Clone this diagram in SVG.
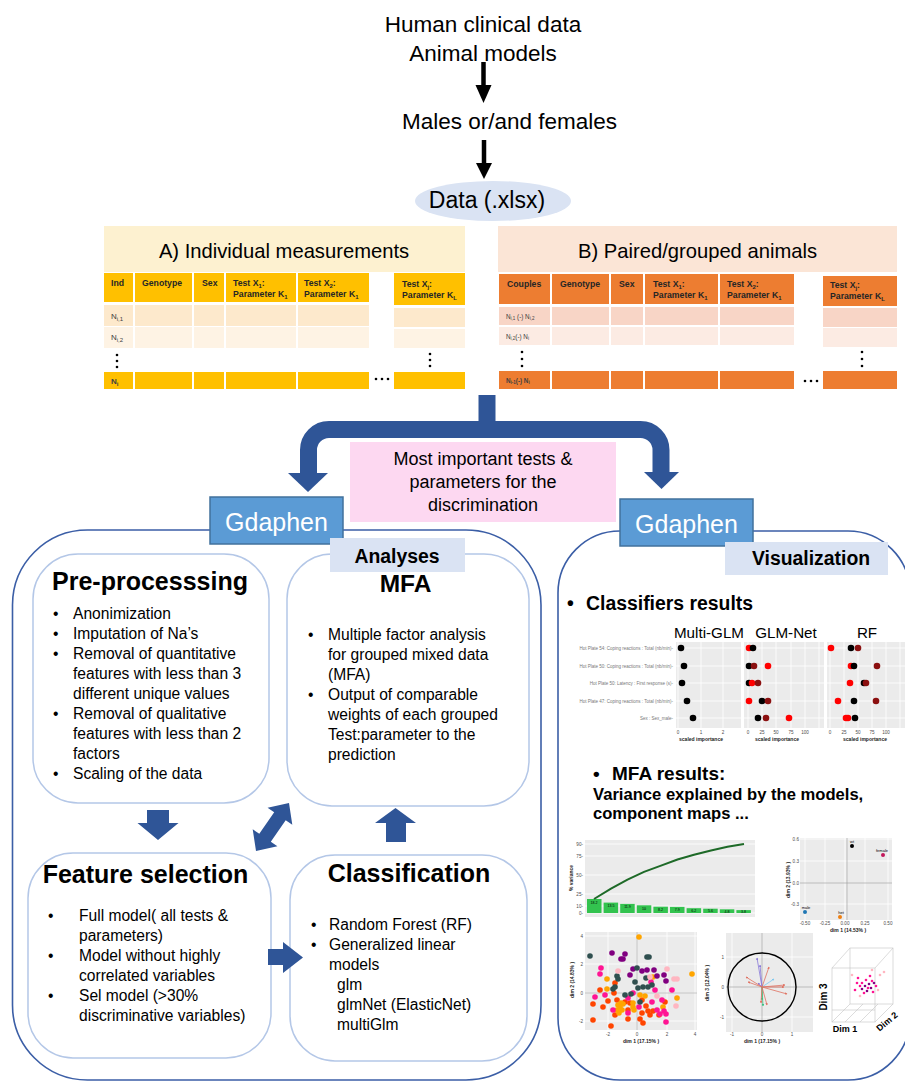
<svg xmlns="http://www.w3.org/2000/svg" width="905" height="1083" viewBox="0 0 905 1083">
<defs>
<style>
text{font-family:"Liberation Sans",Arial,sans-serif;fill:#000}
.big{font-size:22.5px}
.th{font-size:8.7px;font-weight:bold;fill:#262626}
.sub{font-size:6px}
.rl{font-size:8px;fill:#404040}
.rls{font-size:6.3px;fill:#404040}
.bul{font-size:15.6px}
.ttl{font-size:25px;font-weight:bold}
.gd{font-size:25px;fill:#fff}
.panel{fill:none;stroke:#3b5ea6;stroke-width:1.6}
.inner{fill:#fff;stroke:#b4c7e7;stroke-width:1.5}
.barrow{fill:#2f5597}
.gbox{fill:#5b9bd5;stroke:#41719c;stroke-width:1.5}
.lbl{fill:#dae3f3}
.pg{fill:#ebebeb}
.grid{stroke:#fff;stroke-width:0.8;fill:none}
.tk{font-size:4.6px;fill:#4d4d4d}
.ax{font-size:5px;font-weight:bold;fill:#222}
.yl{font-size:4.5px;fill:#777}
.o{fill:#ff4500}.y{fill:#ffa500}.p{fill:#ff1493}.v{fill:#800080}.d{fill:#2f4f4f}.l{fill:#ffb6c1}
.ya{fill:#ffc000}.yr1{fill:#fde9cc}.yr2{fill:#fef3e4}
.oa{fill:#ed7d31}.or1{fill:#f8d5c6}.or2{fill:#fcebe3}
.dt{fill:#000}
</style>
<marker id="mp" viewBox="0 0 6 6" refX="5" refY="3" markerWidth="3" markerHeight="3" orient="auto"><path d="M0,0 L6,3 L0,6 z" fill="#8878d8"/></marker>
<marker id="ms" viewBox="0 0 6 6" refX="5" refY="3" markerWidth="3" markerHeight="3" orient="auto"><path d="M0,0 L6,3 L0,6 z" fill="#e07060"/></marker>
<marker id="mb" viewBox="0 0 6 6" refX="5" refY="3" markerWidth="3" markerHeight="3" orient="auto"><path d="M0,0 L6,3 L0,6 z" fill="#7cc8f0"/></marker>
<marker id="mg" viewBox="0 0 6 6" refX="5" refY="3" markerWidth="3" markerHeight="3" orient="auto"><path d="M0,0 L6,3 L0,6 z" fill="#3cc383"/></marker>
</defs>
<rect width="905" height="1083" fill="#fff"/>

<g id="source">
<text class="big" x="483" y="32" text-anchor="middle">Human clinical data</text>
<text class="big" x="483" y="61" text-anchor="middle">Animal models</text>
</g>
<g id="sex">
<text class="big" x="402" y="129">Males or/and females</text>
</g>
<g id="data">
<ellipse cx="493" cy="201" rx="78" ry="20" fill="#dae3f3"/>
<text x="487" y="208" font-size="23" text-anchor="middle">Data (.xlsx)</text>
</g>

<g id="table-a">
<rect x="104" y="226" width="361" height="46" fill="#fdf1d0"/>
<text x="284" y="258" font-size="20.2" text-anchor="middle">A) Individual measurements</text>
<rect class="ya" x="104" y="273" width="29" height="29"/>
<rect class="ya" x="135" y="273" width="57" height="29"/>
<rect class="ya" x="194" y="273" width="30" height="29"/>
<rect class="ya" x="226" y="273" width="70" height="29"/>
<rect class="ya" x="298" y="273" width="71" height="29"/>
<rect class="ya" x="394" y="273" width="71" height="32"/>
<rect class="yr1" x="104" y="305" width="29" height="21"/>
<rect class="yr1" x="135" y="305" width="57" height="21"/>
<rect class="yr1" x="194" y="305" width="30" height="21"/>
<rect class="yr1" x="226" y="305" width="70" height="21"/>
<rect class="yr1" x="298" y="305" width="71" height="21"/>
<rect class="yr1" x="394" y="308" width="71" height="19"/>
<rect class="yr2" x="104" y="327" width="29" height="21"/>
<rect class="yr2" x="135" y="327" width="57" height="21"/>
<rect class="yr2" x="194" y="327" width="30" height="21"/>
<rect class="yr2" x="226" y="327" width="70" height="21"/>
<rect class="yr2" x="298" y="327" width="71" height="21"/>
<rect class="yr2" x="394" y="329" width="71" height="19"/>
<rect class="ya" x="104" y="372" width="29" height="17"/>
<rect class="ya" x="135" y="372" width="57" height="17"/>
<rect class="ya" x="194" y="372" width="30" height="17"/>
<rect class="ya" x="226" y="372" width="70" height="17"/>
<rect class="ya" x="298" y="372" width="71" height="17"/>
<rect class="ya" x="394" y="372" width="71" height="17"/>
<text class="th" x="111" y="286">Ind</text>
<text class="th" x="142" y="286">Genotype</text>
<text class="th" x="202" y="286">Sex</text>
<text class="th" x="233" y="286">Test X<tspan class="sub" dy="1.5">1</tspan><tspan dy="-1.5">:</tspan></text>
<text class="th" x="233" y="297">Parameter K<tspan class="sub" dy="1.5">1</tspan></text>
<text class="th" x="304" y="286">Test X<tspan class="sub" dy="1.5">2</tspan><tspan dy="-1.5">:</tspan></text>
<text class="th" x="304" y="297">Parameter  K<tspan class="sub" dy="1.5">1</tspan></text>
<text class="th" x="402" y="287">Test X<tspan class="sub" dy="1.5">j</tspan><tspan dy="-1.5">:</tspan></text>
<text class="th" x="402" y="298">Parameter  K<tspan class="sub" dy="1.5">L</tspan></text>
<text class="rl" x="111" y="319">N<tspan class="sub" dy="1.5">i,1</tspan></text>
<text class="rl" x="111" y="340">N<tspan class="sub" dy="1.5">i,2</tspan></text>
<text class="rl" x="111" y="384" font-weight="bold" fill="#262626">N<tspan class="sub" dy="1.5">i</tspan></text>
<circle class="dt" cx="117" cy="355" r="1.3"/><circle class="dt" cx="117" cy="361" r="1.3"/><circle class="dt" cx="117" cy="367" r="1.3"/>
<circle class="dt" cx="430" cy="354" r="1.3"/><circle class="dt" cx="430" cy="360" r="1.3"/><circle class="dt" cx="430" cy="366" r="1.3"/>
<circle class="dt" cx="376" cy="379" r="1.3"/><circle class="dt" cx="382" cy="379" r="1.3"/><circle class="dt" cx="388" cy="379" r="1.3"/>
</g>

<g id="table-b">
<rect x="498" y="226" width="399" height="46" fill="#fbe5d6"/>
<text x="697.5" y="258" font-size="20.2" text-anchor="middle">B) Paired/grouped animals</text>
<rect class="oa" x="499" y="274" width="51" height="30"/>
<rect class="oa" x="552" y="274" width="57" height="30"/>
<rect class="oa" x="611" y="274" width="32" height="30"/>
<rect class="oa" x="645" y="274" width="73" height="30"/>
<rect class="oa" x="720" y="274" width="74" height="30"/>
<rect class="oa" x="823" y="276" width="74" height="30"/>
<rect class="or1" x="499" y="307" width="51" height="18"/>
<rect class="or1" x="552" y="307" width="57" height="18"/>
<rect class="or1" x="611" y="307" width="32" height="18"/>
<rect class="or1" x="645" y="307" width="73" height="18"/>
<rect class="or1" x="720" y="307" width="74" height="18"/>
<rect class="or1" x="823" y="308" width="74" height="19"/>
<rect class="or2" x="499" y="327" width="51" height="18"/>
<rect class="or2" x="552" y="327" width="57" height="18"/>
<rect class="or2" x="611" y="327" width="32" height="18"/>
<rect class="or2" x="645" y="327" width="73" height="18"/>
<rect class="or2" x="720" y="327" width="74" height="18"/>
<rect class="or2" x="823" y="328" width="74" height="19"/>
<rect class="oa" x="499" y="371" width="51" height="18"/>
<rect class="oa" x="552" y="371" width="57" height="18"/>
<rect class="oa" x="611" y="371" width="32" height="18"/>
<rect class="oa" x="645" y="371" width="73" height="18"/>
<rect class="oa" x="720" y="371" width="74" height="18"/>
<rect class="oa" x="823" y="371" width="74" height="18"/>
<text class="th" x="507" y="287">Couples</text>
<text class="th" x="560" y="287">Genotype</text>
<text class="th" x="619" y="287">Sex</text>
<text class="th" x="653" y="287">Test X<tspan class="sub" dy="1.5">1</tspan><tspan dy="-1.5">:</tspan></text>
<text class="th" x="653" y="298">Parameter K<tspan class="sub" dy="1.5">1</tspan></text>
<text class="th" x="727" y="287">Test X<tspan class="sub" dy="1.5">2</tspan><tspan dy="-1.5">:</tspan></text>
<text class="th" x="727" y="298">Parameter  K<tspan class="sub" dy="1.5">1</tspan></text>
<text class="th" x="830" y="288">Test X<tspan class="sub" dy="1.5">j</tspan><tspan dy="-1.5">:</tspan></text>
<text class="th" x="830" y="299">Parameter  K<tspan class="sub" dy="1.5">L</tspan></text>
<text class="rls" x="506" y="319">N<tspan font-size="4.5" dy="1.2">i,1</tspan><tspan dy="-1.2"> (-) N</tspan><tspan font-size="4.5" dy="1.2">i,2</tspan></text>
<text class="rls" x="506" y="339">N<tspan font-size="4.5" dy="1.2">i,2</tspan><tspan dy="-1.2">(-) N</tspan><tspan font-size="4.5" dy="1.2">i</tspan></text>
<text class="rls" x="506" y="383" font-weight="bold" fill="#262626">N<tspan font-size="4.5" dy="1.2">i-1</tspan><tspan dy="-1.2">(-) N</tspan><tspan font-size="4.5" dy="1.2">i</tspan></text>
<circle class="dt" cx="522" cy="352" r="1.3"/><circle class="dt" cx="522" cy="359" r="1.3"/><circle class="dt" cx="522" cy="366" r="1.3"/>
<circle class="dt" cx="862" cy="352" r="1.3"/><circle class="dt" cx="862" cy="359" r="1.3"/><circle class="dt" cx="862" cy="366" r="1.3"/>
<circle class="dt" cx="805" cy="381" r="1.3"/><circle class="dt" cx="811" cy="381" r="1.3"/><circle class="dt" cx="817" cy="381" r="1.3"/>
</g>

<g id="important">
<rect x="350" y="442" width="266" height="80" fill="#fdd8f1"/>
<text x="483" y="465" font-size="18" text-anchor="middle">Most important tests &amp;</text>
<text x="483" y="488" font-size="18" text-anchor="middle">parameters for the</text>
<text x="483" y="511" font-size="18" text-anchor="middle">discrimination</text>
</g>

<g id="left-panel">
<rect class="panel" x="12.5" y="530" width="528.5" height="550" rx="75"/>
</g>
<g id="gdaphen-left">
<rect class="gbox" x="210" y="497" width="133" height="47"/>
<text class="gd" x="276.5" y="531" text-anchor="middle">Gdaphen</text>
</g>

<g id="preprocessing">
<rect class="inner" x="33" y="554" width="236" height="249" rx="45"/>
<text class="ttl" x="150" y="590" text-anchor="middle">Pre-processsing</text>
<text class="bul" x="53" y="619">•</text><text class="bul" x="73" y="619">Anonimization</text>
<text class="bul" x="53" y="639">•</text><text class="bul" x="73" y="639">Imputation of Na’s</text>
<text class="bul" x="53" y="659">•</text><text class="bul" x="73" y="659">Removal of quantitative</text>
<text class="bul" x="73" y="679">features with less than 3</text>
<text class="bul" x="73" y="699">different unique values</text>
<text class="bul" x="53" y="719">•</text><text class="bul" x="73" y="719">Removal of qualitative</text>
<text class="bul" x="73" y="739">features with less than 2</text>
<text class="bul" x="73" y="759">factors</text>
<text class="bul" x="53" y="779">•</text><text class="bul" x="73" y="779">Scaling of the data</text>
</g>

<g id="mfa">
<rect class="inner" x="287" y="554" width="242" height="252" rx="45"/>
<rect class="lbl" x="330" y="538" width="135" height="34"/>
<text x="397" y="563" font-size="19.4" font-weight="bold" text-anchor="middle">Analyses</text>
<text x="405.5" y="592" font-size="24.5" font-weight="bold" text-anchor="middle">MFA</text>
<text class="bul" x="308" y="640">•</text><text class="bul" x="328" y="640">Multiple factor analysis</text>
<text class="bul" x="328" y="660">for grouped mixed data</text>
<text class="bul" x="328" y="680">(MFA)</text>
<text class="bul" x="308" y="700">•</text><text class="bul" x="328" y="700">Output of comparable</text>
<text class="bul" x="328" y="720">weights of each grouped</text>
<text class="bul" x="328" y="740">Test:parameter to the</text>
<text class="bul" x="328" y="760">prediction</text>
</g>

<g id="feature-selection">
<rect class="inner" x="28" y="853" width="243" height="205" rx="45"/>
<text class="ttl" x="145.5" y="883" text-anchor="middle">Feature selection</text>
<text class="bul" x="48" y="921">•</text><text class="bul" x="79" y="921">Full model( all tests &amp;</text>
<text class="bul" x="79" y="941">parameters)</text>
<text class="bul" x="48" y="961">•</text><text class="bul" x="79" y="961">Model  without highly</text>
<text class="bul" x="79" y="981">correlated variables</text>
<text class="bul" x="48" y="1001">•</text><text class="bul" x="79" y="1001">Sel model (&gt;30%</text>
<text class="bul" x="79" y="1021">discriminative variables)</text>
</g>

<g id="classification">
<rect class="inner" x="290" y="855" width="237" height="206" rx="45"/>
<text class="ttl" x="409" y="882" text-anchor="middle">Classification</text>
<text class="bul" x="311" y="930">•</text><text class="bul" x="329" y="930">Random Forest (RF)</text>
<text class="bul" x="311" y="950">•</text><text class="bul" x="329" y="950">Generalized linear</text>
<text class="bul" x="329" y="970">models</text>
<text class="bul" x="337" y="990">glm</text>
<text class="bul" x="337" y="1010">glmNet (ElasticNet)</text>
<text class="bul" x="337" y="1030">multiGlm</text>
</g>

<g id="right-panel">
<rect class="panel" x="558" y="531" width="352" height="549" rx="62"/>
</g>
<g id="gdaphen-right">
<rect class="gbox" x="620" y="499" width="133" height="47"/>
<text class="gd" x="686.5" y="533" text-anchor="middle">Gdaphen</text>
</g>
<g id="visualization">
<rect class="lbl" x="725" y="542" width="163" height="33"/>
<text x="811" y="565" font-size="19.4" font-weight="bold" text-anchor="middle">Visualization</text>
<text x="567" y="610" font-size="19.4" font-weight="bold">•</text>
<text x="586" y="610" font-size="19.4" font-weight="bold">Classifiers results</text>
</g>

<g id="classifier-plots">
<text x="709" y="638" font-size="15.2" text-anchor="middle">Multi-GLM</text>
<text x="786" y="638" font-size="15.2" text-anchor="middle">GLM-Net</text>
<text x="867" y="638" font-size="15.2" text-anchor="middle">RF</text>
<rect class="pg" x="676" y="642" width="65" height="86"/>
<rect class="pg" x="744" y="642" width="80" height="86"/>
<rect class="pg" x="827" y="642" width="78" height="86"/>
<path class="grid" d="M676 648H741M676 666H741M676 683H741M676 701H741M676 718H741M678 642V728M701 642V728M723 642V728M744 648H824M744 666H824M744 683H824M744 701H824M744 718H824M748 642V728M762 642V728M776 642V728M791 642V728M805 642V728M819 642V728M827 648H905M827 666H905M827 683H905M827 701H905M827 718H905M830 642V728M844 642V728M858 642V728M872 642V728M886 642V728M900 642V728"/>
<text class="yl" x="673" y="649.5" text-anchor="end">Hot Plate 54: Coping reactions : Total (nb/min)-</text>
<text class="yl" x="673" y="667.5" text-anchor="end">Hot Plate 50: Coping reactions : Total (nb/min)-</text>
<text class="yl" x="673" y="684.5" text-anchor="end">Hot Plate 50: Latency : First response (s)-</text>
<text class="yl" x="673" y="702.5" text-anchor="end">Hot Plate 47: Coping reactions : Total (nb/min)-</text>
<text class="yl" x="673" y="719.5" text-anchor="end">Sex : Sex_male-</text>
<g fill="#000">
<circle cx="681" cy="648" r="3.3"/><circle cx="684" cy="666" r="3.3"/><circle cx="682" cy="683" r="3.3"/><circle cx="687" cy="701" r="3.3"/><circle cx="693" cy="718" r="3.3"/>
</g>
<g>
<circle cx="749" cy="648" r="3.3" fill="#ff0000"/><circle cx="753" cy="648" r="3.3" fill="#000"/>
<circle cx="749" cy="666" r="3.3" fill="#000"/><circle cx="754" cy="666" r="3.3" fill="#8b1010"/><circle cx="768" cy="666" r="3.3" fill="#ff0000"/>
<circle cx="749" cy="683" r="3.3" fill="#000"/><circle cx="752" cy="683" r="3.3" fill="#ff0000"/><circle cx="758" cy="683" r="3.3" fill="#8b1010"/>
<circle cx="749" cy="701" r="3.3" fill="#ff0000"/><circle cx="762" cy="701" r="3.3" fill="#000"/><circle cx="768" cy="701" r="3.3" fill="#8b1010"/>
<circle cx="758" cy="718" r="3.3" fill="#000"/><circle cx="766" cy="718" r="3.3" fill="#8b1010"/><circle cx="789" cy="718" r="3.3" fill="#ff0000"/>
<circle cx="831" cy="648" r="3.3" fill="#ff0000"/><circle cx="851" cy="648" r="3.3" fill="#000"/><circle cx="858" cy="648" r="3.3" fill="#8b1010"/>
<circle cx="851" cy="666" r="3.3" fill="#ff0000"/><circle cx="854" cy="666" r="3.3" fill="#000"/><circle cx="877" cy="666" r="3.3" fill="#8b1010"/>
<circle cx="850" cy="683" r="3.3" fill="#ff0000"/><circle cx="864" cy="683" r="3.3" fill="#000"/><circle cx="866" cy="683" r="3.3" fill="#8b1010"/>
<circle cx="838" cy="701" r="3.3" fill="#ff0000"/><circle cx="854" cy="701" r="3.3" fill="#000"/><circle cx="876" cy="701" r="3.3" fill="#8b1010"/>
<circle cx="846" cy="718" r="3.3" fill="#ff0000"/><circle cx="848" cy="718" r="3.3" fill="#ff0000"/><circle cx="855" cy="718" r="3.3" fill="#000"/>
</g>
<text class="tk" x="678" y="734" text-anchor="middle">0</text><text class="tk" x="701" y="734" text-anchor="middle">1</text><text class="tk" x="723" y="734" text-anchor="middle">2</text>
<text class="tk" x="748" y="734" text-anchor="middle">0</text><text class="tk" x="762" y="734" text-anchor="middle">25</text><text class="tk" x="776" y="734" text-anchor="middle">50</text><text class="tk" x="791" y="734" text-anchor="middle">75</text><text class="tk" x="805" y="734" text-anchor="middle">100</text>
<text class="tk" x="830" y="734" text-anchor="middle">0</text><text class="tk" x="844" y="734" text-anchor="middle">25</text><text class="tk" x="858" y="734" text-anchor="middle">50</text><text class="tk" x="872" y="734" text-anchor="middle">75</text><text class="tk" x="886" y="734" text-anchor="middle">100</text>
<text class="ax" x="701" y="741" text-anchor="middle">scaled importance</text>
<text class="ax" x="777" y="741" text-anchor="middle">scaled importance</text>
<text class="ax" x="865" y="741" text-anchor="middle">scaled importance</text>
</g>

<g id="mfa-results">
<text x="593" y="780" font-size="19" font-weight="bold">•</text>
<text x="612" y="780" font-size="19" font-weight="bold">MFA results:</text>
<text x="593" y="800" font-size="16.6" font-weight="bold">Variance explained by the models,</text>
<text x="593" y="819" font-size="16.6" font-weight="bold">component maps ...</text>
</g>

<g id="scree-plot">
<rect class="pg" x="585" y="840" width="170" height="77"/>
<path class="grid" d="M585 844H755M585 856H755M585 875H755M585 894H755M585 906H755M585 913H755"/>
<g fill="#33c34f">
<rect x="587" y="899" width="14.5" height="14"/>
<rect x="603.6" y="902.6" width="14.5" height="10.4"/>
<rect x="620.2" y="903.9" width="14.5" height="9.1"/>
<rect x="636.8" y="905.3" width="14.5" height="7.7"/>
<rect x="653.4" y="906.7" width="14.5" height="6.3"/>
<rect x="670" y="906.9" width="14.5" height="6.1"/>
<rect x="686.6" y="908.2" width="14.5" height="4.8"/>
<rect x="703.2" y="908.7" width="14.5" height="4.3"/>
<rect x="719.8" y="909.3" width="14.5" height="3.7"/>
<rect x="736.4" y="910.1" width="14.5" height="2.9"/>
</g>
<polyline points="594,899 611,888.7 627.5,879.6 644,871.9 661,865.6 677.5,859.5 694,854.8 711,850.5 727.5,846.8 744,843.9" fill="none" stroke="#1e6a28" stroke-width="2"/>
<text x="594" y="904" font-size="3.6" text-anchor="middle">18.2</text><text x="611" y="907" font-size="3.6" text-anchor="middle">13.5</text><text x="627.5" y="908" font-size="3.6" text-anchor="middle">11.9</text><text x="644" y="909.5" font-size="3.6" text-anchor="middle">10</text><text x="660.6" y="910.5" font-size="3.6" text-anchor="middle">8.2</text><text x="677.2" y="910.5" font-size="3.6" text-anchor="middle">7.9</text><text x="693.8" y="911.5" font-size="3.6" text-anchor="middle">6.2</text><text x="710.4" y="912" font-size="3.6" text-anchor="middle">5.6</text><text x="727" y="912.5" font-size="3.6" text-anchor="middle">4.8</text><text x="743.6" y="913" font-size="3.6" text-anchor="middle">3.8</text>
<text class="tk" x="583" y="845.5" text-anchor="end">90-</text><text class="tk" x="583" y="857.5" text-anchor="end">75-</text><text class="tk" x="583" y="876.5" text-anchor="end">50-</text><text class="tk" x="583" y="895.5" text-anchor="end">25-</text><text class="tk" x="583" y="907.5" text-anchor="end">10-</text><text class="tk" x="583" y="914.5" text-anchor="end">0-</text>
<text class="ax" x="0" y="0" transform="translate(573 878) rotate(-90)" text-anchor="middle">% variance</text>
</g>

<g id="group-map">
<rect class="pg" x="800" y="838" width="92" height="82"/>
<path class="grid" d="M805 838V920M825 838V920M845 838V920M865 838V920M888 838V920M800 839H892M800 861H892M800 904H892"/>
<path d="M847 838V920M800 883H892" stroke="#9a9a9a" stroke-width="0.6"/>
<circle cx="852" cy="846" r="2" fill="#000"/><text x="852" y="842.5" font-size="4" text-anchor="middle" fill="#000">wt</text>
<circle cx="883" cy="855" r="2" fill="#c2185b"/><text x="882" y="851.5" font-size="4" text-anchor="middle" fill="#c2185b">female</text>
<circle cx="805" cy="912" r="2" fill="#1f77b4"/><text x="806" y="908.5" font-size="4" text-anchor="middle" fill="#1f77b4">male</text>
<circle cx="840" cy="917" r="2" fill="#f07f10"/><text x="841" y="913.5" font-size="4" text-anchor="middle" fill="#f07f10">het</text>
<text class="tk" x="799" y="841" text-anchor="end">0.6</text><text class="tk" x="799" y="863" text-anchor="end">0.3</text><text class="tk" x="799" y="885" text-anchor="end">0.0</text><text class="tk" x="799" y="906" text-anchor="end">-0.3</text>
<text class="tk" x="805" y="925" text-anchor="middle">-0.50</text><text class="tk" x="825" y="925" text-anchor="middle">-0.25</text><text class="tk" x="845" y="925" text-anchor="middle">0.00</text><text class="tk" x="865" y="925" text-anchor="middle">0.25</text><text class="tk" x="888" y="925" text-anchor="middle">0.50</text>
<text class="ax" x="848" y="932" text-anchor="middle">dim 1 (14.53% )</text>
<text class="ax" x="0" y="0" transform="translate(790 880) rotate(-90)" text-anchor="middle">dim 2 (13.93% )</text>
</g>

<g id="individual-map">
<rect class="pg" x="585" y="932" width="112" height="98"/>
<path class="grid" d="M608 932V1030M667 932V1030M695 932V1030M585 936H697M585 964H697M585 1021H697"/>
<path d="M637 932V1030M585 993H697" stroke="#bdbdbd" stroke-width="0.8"/>
<g>
<circle class="o" cx="615" cy="983" r="2.8"/><circle class="o" cx="614" cy="993" r="2.8"/><circle class="o" cx="608" cy="1001" r="2.8"/><circle class="o" cx="617" cy="1000" r="2.8"/><circle class="o" cx="642" cy="1000" r="2.8"/><circle class="o" cx="665" cy="1002" r="2.8"/><circle class="o" cx="625" cy="1002" r="2.8"/><circle class="o" cx="630" cy="1003" r="2.8"/><circle class="o" cx="593" cy="1004" r="2.8"/><circle class="o" cx="603" cy="1007" r="2.8"/><circle class="o" cx="628" cy="1010" r="2.8"/><circle class="o" cx="648" cy="1011" r="2.8"/><circle class="o" cx="653" cy="1011" r="2.8"/><circle class="o" cx="615" cy="1015" r="2.8"/><circle class="o" cx="642" cy="1013" r="2.8"/><circle class="o" cx="650" cy="1015" r="2.8"/><circle class="o" cx="659" cy="1015" r="2.8"/><circle class="o" cx="593" cy="1020" r="2.8"/><circle class="o" cx="628" cy="1019" r="2.8"/><circle class="o" cx="640" cy="1019" r="2.8"/><circle class="o" cx="643" cy="1023" r="2.8"/><circle class="o" cx="611" cy="1026" r="2.8"/><circle class="o" cx="600" cy="990" r="2.8"/><circle class="o" cx="646" cy="1006" r="2.8"/>
<circle class="y" cx="639" cy="937" r="2.8"/><circle class="y" cx="692" cy="974" r="2.8"/><circle class="y" cx="653" cy="977" r="2.8"/><circle class="y" cx="607" cy="989" r="2.8"/><circle class="y" cx="640" cy="995" r="2.8"/><circle class="y" cx="677" cy="998" r="2.8"/><circle class="y" cx="621" cy="1003" r="2.8"/><circle class="y" cx="623" cy="1004" r="2.8"/><circle class="y" cx="618" cy="1005" r="2.8"/><circle class="y" cx="633" cy="1003" r="2.8"/><circle class="y" cx="620" cy="1007" r="2.8"/><circle class="y" cx="622" cy="1010" r="2.8"/><circle class="y" cx="617" cy="1010" r="2.8"/><circle class="y" cx="619" cy="1013" r="2.8"/><circle class="y" cx="633" cy="1007" r="2.8"/><circle class="y" cx="634" cy="1010" r="2.8"/><circle class="y" cx="663" cy="1007" r="2.8"/><circle class="y" cx="607" cy="979" r="2.8"/><circle class="y" cx="645" cy="996" r="2.8"/>
<circle class="p" cx="600" cy="974" r="2.8"/><circle class="p" cx="651" cy="982" r="2.8"/><circle class="p" cx="595" cy="997" r="2.8"/><circle class="p" cx="605" cy="995" r="2.8"/><circle class="p" cx="633" cy="993" r="2.8"/><circle class="p" cx="628" cy="998" r="2.8"/><circle class="p" cx="662" cy="1000" r="2.8"/><circle class="p" cx="652" cy="1002" r="2.8"/><circle class="p" cx="613" cy="1010" r="2.8"/><circle class="p" cx="639" cy="1007" r="2.8"/><circle class="p" cx="657" cy="1010" r="2.8"/><circle class="p" cx="660" cy="1014" r="2.8"/><circle class="p" cx="664" cy="1011" r="2.8"/><circle class="p" cx="628" cy="1013" r="2.8"/><circle class="p" cx="666" cy="1014" r="2.8"/><circle class="p" cx="666" cy="1022" r="2.8"/><circle class="p" cx="601" cy="968" r="2.8"/><circle class="p" cx="655" cy="990" r="2.8"/><circle class="p" cx="672" cy="990" r="2.8"/>
<circle class="v" cx="612" cy="953" r="2.8"/><circle class="v" cx="625" cy="954" r="2.8"/><circle class="v" cx="621" cy="959" r="2.8"/><circle class="v" cx="623" cy="959" r="2.8"/><circle class="v" cx="633" cy="969" r="2.8"/><circle class="v" cx="642" cy="971" r="2.8"/><circle class="v" cx="647" cy="970" r="2.8"/><circle class="v" cx="654" cy="970" r="2.8"/><circle class="v" cx="664" cy="975" r="2.8"/><circle class="v" cx="657" cy="976" r="2.8"/><circle class="v" cx="666" cy="981" r="2.8"/><circle class="v" cx="630" cy="975" r="2.8"/>
<circle class="d" cx="590" cy="956" r="2.8"/><circle class="d" cx="647" cy="957" r="2.8"/><circle class="d" cx="649" cy="957" r="2.8"/><circle class="d" cx="617" cy="976" r="2.8"/><circle class="d" cx="637" cy="968" r="2.8"/><circle class="d" cx="646" cy="978" r="2.8"/><circle class="d" cx="635" cy="982" r="2.8"/><circle class="d" cx="638" cy="988" r="2.8"/><circle class="d" cx="643" cy="987" r="2.8"/><circle class="d" cx="648" cy="987" r="2.8"/><circle class="d" cx="652" cy="985" r="2.8"/><circle class="d" cx="613" cy="989" r="2.8"/><circle class="d" cx="615" cy="987" r="2.8"/><circle class="d" cx="625" cy="995" r="2.8"/><circle class="d" cx="631" cy="994" r="2.8"/><circle class="d" cx="640" cy="1002" r="2.8"/><circle class="d" cx="618" cy="979" r="2.8"/>
<circle class="l" cx="618" cy="971" r="2.8"/><circle class="l" cx="667" cy="969" r="2.8"/><circle class="l" cx="650" cy="977" r="2.8"/><circle class="l" cx="674" cy="979" r="2.8"/><circle class="l" cx="677" cy="979" r="2.8"/><circle class="l" cx="657" cy="996" r="2.8"/><circle class="l" cx="676" cy="1006" r="2.8"/>
</g>
<text class="tk" x="583" y="937.5" text-anchor="end">4</text><text class="tk" x="583" y="965.5" text-anchor="end">2</text><text class="tk" x="583" y="994.5" text-anchor="end">0</text><text class="tk" x="583" y="1022.5" text-anchor="end">-2</text>
<text class="tk" x="608" y="1036" text-anchor="middle">-2</text><text class="tk" x="637" y="1036" text-anchor="middle">0</text><text class="tk" x="667" y="1036" text-anchor="middle">2</text><text class="tk" x="695" y="1036" text-anchor="middle">4</text>
<text class="ax" x="641" y="1043" text-anchor="middle">dim 1 (17.15% )</text>
<text class="ax" x="0" y="0" transform="translate(574 980) rotate(-90)" text-anchor="middle">dim 2 (14.83% )</text>
</g>

<g id="correlation-circle">
<rect class="pg" x="726" y="933" width="87" height="99"/>
<path class="grid" d="M732 933V1032M792 933V1032M726 957H813M726 1017H813"/>
<path d="M762 933V1032M726 987H813" stroke="#9a9a9a" stroke-width="0.6"/>
<circle cx="762" cy="987" r="34" fill="none" stroke="#000" stroke-width="1.4"/>
<g stroke-width="0.8" fill="none">
<line x1="762" y1="987" x2="757" y2="958" stroke="#8878d8" marker-end="url(#mp)"/>
<line x1="762" y1="987" x2="760" y2="965" stroke="#8878d8" marker-end="url(#mp)"/>
<line x1="762" y1="987" x2="758" y2="983" stroke="#8878d8" marker-end="url(#mp)"/>
<line x1="762" y1="987" x2="769" y2="967" stroke="#e07060" marker-end="url(#ms)"/>
<line x1="762" y1="987" x2="746" y2="977" stroke="#e07060" marker-end="url(#ms)"/>
<line x1="762" y1="987" x2="748" y2="982" stroke="#e07060" marker-end="url(#ms)"/>
<line x1="762" y1="987" x2="774" y2="979" stroke="#7cc8f0" marker-end="url(#mb)"/>
<line x1="762" y1="987" x2="785" y2="985" stroke="#e07060" marker-end="url(#ms)"/>
<line x1="762" y1="987" x2="784" y2="987" stroke="#e07060" marker-end="url(#ms)"/>
<line x1="762" y1="987" x2="787" y2="994" stroke="#e07060" marker-end="url(#ms)"/>
<line x1="762" y1="987" x2="763" y2="1006" stroke="#3cc383" marker-end="url(#mg)"/>
<line x1="762" y1="987" x2="762" y2="1000" stroke="#3cc383" marker-end="url(#mg)"/>
<line x1="762" y1="987" x2="767" y2="1005" stroke="#e07060" marker-end="url(#ms)"/>
<line x1="762" y1="987" x2="761" y2="1003" stroke="#e07060" marker-end="url(#ms)"/>
</g>
<text class="tk" x="724" y="958.5" text-anchor="end">1</text><text class="tk" x="724" y="988.5" text-anchor="end">0</text><text class="tk" x="724" y="1018.5" text-anchor="end">-1</text>
<text class="tk" x="732" y="1036" text-anchor="middle">-1</text><text class="tk" x="762" y="1036" text-anchor="middle">0</text><text class="tk" x="792" y="1036" text-anchor="middle">1</text>
<text class="ax" x="762" y="1043" text-anchor="middle">dim 1 (17.15% )</text>
<text class="ax" x="0" y="0" transform="translate(709 983) rotate(-90)" text-anchor="middle">dim 3 (12.04% )</text>
</g>

<g id="plot-3d">
<g stroke="#c4c4c4" stroke-width="0.6" fill="none">
<rect x="832" y="968" width="43" height="54"/>
<rect x="850" y="948" width="43" height="56"/>
<path d="M832 968L850 948M875 968L893 948M875 1022L893 1004M832 1022L850 1004M845 1022L863 1004M860 1022L878 1004M832 1010L875 1010"/>
</g>
<g>
<circle class="p" cx="858" cy="978" r="1.3"/><circle class="p" cx="862" cy="983" r="1.3"/><circle class="p" cx="868" cy="988" r="1.3"/><circle class="p" cx="872" cy="981" r="1.3"/><circle class="p" cx="855" cy="990" r="1.3"/><circle class="p" cx="864" cy="993" r="1.3"/><circle class="p" cx="870" cy="976" r="1.3"/><circle class="p" cx="876" cy="986" r="1.3"/><circle class="p" cx="860" cy="986" r="1.3"/><circle class="p" cx="866" cy="980" r="1.3"/><circle class="p" cx="873" cy="992" r="1.3"/><circle class="p" cx="857" cy="983" r="1.3"/>
<circle class="v" cx="865" cy="986" r="1.3"/><circle class="v" cx="869" cy="984" r="1.3"/><circle class="v" cx="862" cy="989" r="1.3"/><circle class="v" cx="871" cy="988" r="1.3"/><circle class="v" cx="867" cy="991" r="1.3"/><circle class="v" cx="874" cy="983" r="1.3"/>
<circle class="l" cx="872" cy="970" r="1.3"/><circle class="l" cx="880" cy="975" r="1.3"/><circle class="l" cx="852" cy="975" r="1.3"/><circle class="l" cx="878" cy="990" r="1.3"/><circle class="l" cx="884" cy="972" r="1.3"/><circle class="l" cx="860" cy="996" r="1.3"/>
</g>
<text x="0" y="0" transform="translate(827 997) rotate(-90)" font-size="10" font-weight="bold" text-anchor="middle">Dim 3</text>
<text x="845" y="1032" font-size="9" font-weight="bold" text-anchor="middle">Dim 1</text>
<text x="0" y="0" transform="translate(889 1024) rotate(-40)" font-size="9" font-weight="bold" text-anchor="middle">Dim 2</text>
</g>

<g id="connectors">
<path d="M483.5 62V87" stroke="#000" stroke-width="4.5"/>
<polygon points="475.5,85 491.5,85 483.5,103" fill="#000"/>
<path d="M484 140V165" stroke="#000" stroke-width="4.5"/>
<polygon points="476,163 492,163 484,179" fill="#000"/>
<path d="M487 395V431" stroke="#2f5597" stroke-width="17" fill="none"/>
<path d="M308.5 474V450A20.5 20.5 0 0 1 329 429.5H640.5A20.5 20.5 0 0 1 661 450V473" stroke="#2f5597" stroke-width="17" fill="none"/>
<polygon class="barrow" points="288,473 328,473 308,492"/>
<polygon class="barrow" points="644,472 679,472 661.5,489"/>
<polygon class="barrow" points="147,810 169,810 169,823 178.5,823 158,840 137.5,823 147,823"/>
<polygon class="barrow" points="395.5,808 416,823 406,823 406,842 386,842 386,823 375,823"/>
<polygon class="barrow" points="256,851 277.4,846.3 270.8,841.8 285.7,820.2 292.3,824.7 289,803 267.6,807.7 274.2,812.2 259.3,833.8 252.7,829.3"/>
<polygon class="barrow" points="268,949 283,949 283,942 303,957.5 283,973 283,965 268,965"/>
</g>
</svg>
